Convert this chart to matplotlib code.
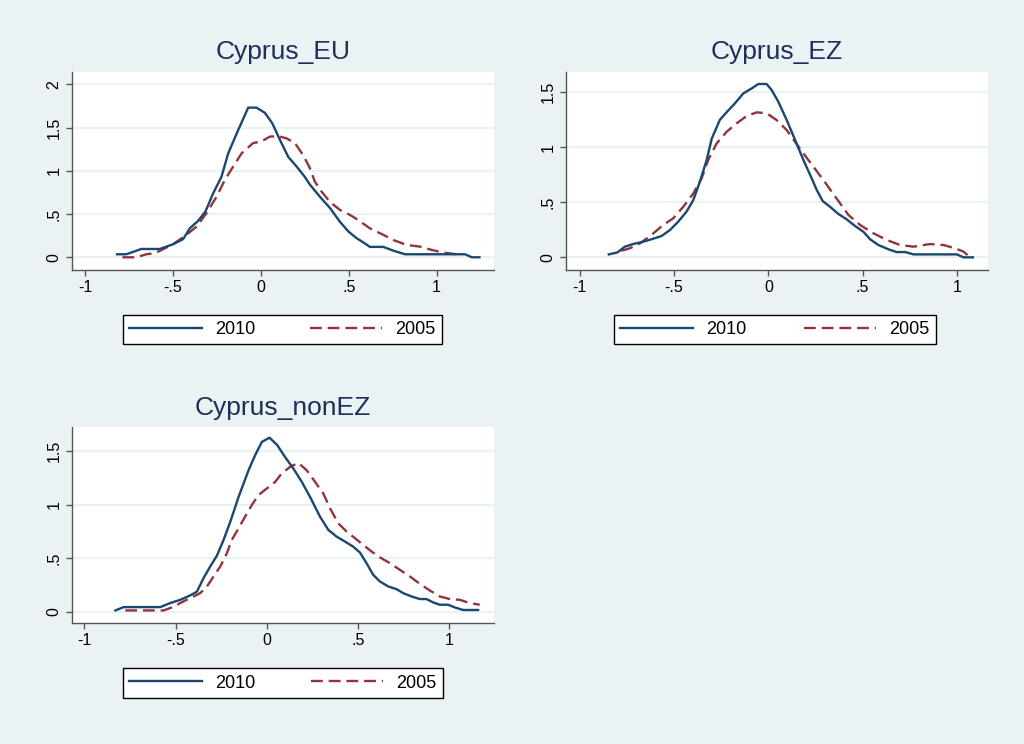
import numpy as np
import matplotlib.pyplot as plt

plt.rcParams['font.family'] = ['Liberation Sans', 'DejaVu Sans']

# couleurs façon Stata s2color
bleu = '#1A476F'
rouge = '#90353B'
fond = '#EAF2F3'

# Cyprus_EU
eu_x_2010 = [-0.818, -0.765, -0.68, -0.575, -0.50, -0.442, -0.404, -0.357, -0.315, -0.271, -0.224,
             -0.186, -0.129, -0.072, -0.025, 0.023, 0.065, 0.108, 0.156, 0.203, 0.25, 0.279, 0.336,
             0.393, 0.45, 0.497, 0.545, 0.592, 0.62, 0.696, 0.753, 0.82, 0.924, 1.038, 1.161, 1.2, 1.243]
eu_y_2010 = [0.035, 0.035, 0.096, 0.096, 0.15, 0.21, 0.335, 0.42, 0.53, 0.74, 0.93,
             1.20, 1.47, 1.73, 1.73, 1.67, 1.55, 1.36, 1.16, 1.05, 0.93, 0.84, 0.70,
             0.57, 0.41, 0.30, 0.22, 0.16, 0.12, 0.12, 0.077, 0.035, 0.035, 0.035, 0.035, 0.0, 0.0]
eu_x_2005 = [-0.787, -0.708, -0.651, -0.603, -0.565, -0.50, -0.423, -0.366, -0.309, -0.252, -0.205,
             -0.157, -0.11, -0.072, -0.044, 0.004, 0.051, 0.099, 0.146, 0.194, 0.241, 0.279, 0.307,
             0.345, 0.393, 0.45, 0.507, 0.554, 0.62, 0.696, 0.753, 0.829, 0.905, 0.972, 1.038, 1.114]
eu_y_2005 = [0.0, 0.0, 0.035, 0.046, 0.085, 0.15, 0.26, 0.355, 0.51, 0.70, 0.894,
             1.05, 1.20, 1.27, 1.32, 1.34, 1.395, 1.40, 1.375, 1.32, 1.18, 1.03, 0.875,
             0.76, 0.64, 0.547, 0.49, 0.43, 0.335, 0.26, 0.20, 0.143, 0.123, 0.085, 0.054, 0.035]

# Cyprus_EZ
ez_x_2010 = [-0.846, -0.80, -0.761, -0.717, -0.664, -0.62, -0.566, -0.522, -0.478, -0.434, -0.398,
             -0.363, -0.327, -0.30, -0.257, -0.221, -0.177, -0.133, -0.088, -0.053, -0.009, 0.018,
             0.053, 0.097, 0.142, 0.186, 0.23, 0.257, 0.288, 0.327, 0.372, 0.416, 0.46, 0.504, 0.54,
             0.584, 0.637, 0.681, 0.726, 0.77, 0.858, 1.0, 1.035, 1.085]
ez_y_2010 = [0.027, 0.045, 0.097, 0.121, 0.142, 0.164, 0.194, 0.248, 0.324, 0.415, 0.52,
             0.688, 0.885, 1.08, 1.25, 1.32, 1.40, 1.49, 1.536, 1.576, 1.576, 1.52,
             1.415, 1.25, 1.067, 0.885, 0.718, 0.612, 0.512, 0.46, 0.394, 0.345, 0.285, 0.233, 0.164,
             0.112, 0.073, 0.048, 0.048, 0.027, 0.027, 0.027, 0.0, 0.0]
ez_x_2005 = [-0.779, -0.735, -0.681, -0.62, -0.558, -0.504, -0.451, -0.398, -0.354, -0.319, -0.274,
             -0.221, -0.168, -0.115, -0.062, -0.009, 0.044, 0.097, 0.142, 0.186, 0.239, 0.292, 0.336,
             0.381, 0.425, 0.487, 0.558, 0.628, 0.699, 0.77, 0.858, 0.929, 0.991, 1.035, 1.071]
ez_y_2005 = [0.06, 0.082, 0.127, 0.203, 0.294, 0.355, 0.46, 0.58, 0.718, 0.885, 1.036,
             1.142, 1.218, 1.285, 1.318, 1.31, 1.248, 1.158, 1.05, 0.945, 0.824, 0.703, 0.597,
             0.49, 0.385, 0.294, 0.218, 0.158, 0.112, 0.097, 0.121, 0.112, 0.082, 0.052, 0.0]

# Cyprus_nonEZ
nez_x_2010 = [-0.83, -0.785, -0.693, -0.584, -0.529, -0.474, -0.42, -0.383, -0.347, -0.31, -0.274,
              -0.237, -0.20, -0.155, -0.10, -0.064, -0.027, 0.015, 0.058, 0.10, 0.146, 0.192, 0.237,
              0.292, 0.338, 0.383, 0.429, 0.474, 0.511, 0.547, 0.584, 0.62, 0.666, 0.712, 0.748,
              0.794, 0.839, 0.876, 0.912, 0.949, 0.995, 1.031, 1.077, 1.159]
nez_y_2010 = [0.015, 0.046, 0.046, 0.046, 0.084, 0.114, 0.155, 0.19, 0.315, 0.424, 0.523,
              0.671, 0.841, 1.07, 1.32, 1.46, 1.584, 1.624, 1.553, 1.444, 1.336, 1.212, 1.073,
              0.888, 0.764, 0.702, 0.656, 0.609, 0.554, 0.455, 0.346, 0.285, 0.238, 0.213, 0.176,
              0.145, 0.121, 0.121, 0.09, 0.068, 0.068, 0.043, 0.019, 0.019]
nez_x_2005 = [-0.776, -0.693, -0.566, -0.52, -0.474, -0.42, -0.365, -0.328, -0.292, -0.255, -0.219,
              -0.192, -0.155, -0.119, -0.082, -0.046, 0.0, 0.046, 0.082, 0.128, 0.173, 0.219, 0.265,
              0.31, 0.347, 0.392, 0.438, 0.484, 0.529, 0.575, 0.62, 0.675, 0.73, 0.785, 0.839,
              0.894, 0.949, 1.004, 1.058, 1.113, 1.168]
nez_y_2005 = [0.015, 0.015, 0.015, 0.043, 0.084, 0.13, 0.176, 0.238, 0.331, 0.424, 0.547,
              0.671, 0.779, 0.888, 0.996, 1.089, 1.15, 1.212, 1.29, 1.352, 1.389, 1.32, 1.212,
              1.104, 0.965, 0.826, 0.749, 0.687, 0.625, 0.563, 0.51, 0.455, 0.393, 0.331, 0.263,
              0.201, 0.145, 0.121, 0.114, 0.084, 0.068]

x_ticks = [-1, -0.5, 0, 0.5, 1]
x_labels = ['-1', '-.5', '0', '.5', '1']
y_labels_all = {0: '0', 0.5: '.5', 1: '1', 1.5: '1.5', 2: '2'}

# (titre, données, position axes, xlim, ylim, yticks, position légende en pixels)
panneaux = [
    ('Cyprus_EU', eu_x_2010, eu_y_2010, eu_x_2005, eu_y_2005,
     (72, 72, 494, 270), (-1.074, 1.326), (-0.147, 2.142), [0, 0.5, 1, 1.5, 2], (123, 312, 442, 347)),
    ('Cyprus_EZ', ez_x_2010, ez_y_2010, ez_x_2005, ez_y_2005,
     (566, 72, 988, 270), (-1.073, 1.165), (-0.115, 1.685), [0, 0.5, 1, 1.5], (614, 312, 936, 347)),
    ('Cyprus_nonEZ', nez_x_2010, nez_y_2010, nez_x_2005, nez_y_2005,
     (72, 427, 494, 623), (-1.068, 1.246), (-0.102, 1.723), [0, 0.5, 1, 1.5], (123, 665, 443, 701)),
]

W, H = 1024, 744
fig = plt.figure(figsize=(W / 100, H / 100), dpi=100, facecolor=fond)

for titre, x1, y1, x2, y2, pos, xl, yl, yt, lg in panneaux:
    l, t, r, b = pos
    ax = fig.add_axes([l / W, 1 - b / H, (r - l) / W, (b - t) / H])
    ax.set_facecolor('white')
    for yy in yt:
        ax.axhline(yy, color=fond, lw=1.6, zorder=0.5)
    ax.plot(x1, y1, color=bleu, lw=1.7, label='2010', zorder=3)
    ax.plot(x2, y2, color=rouge, lw=1.7, ls=(0, (5, 2.5)), label='2005', zorder=2)
    ax.set_xlim(xl)
    ax.set_ylim(yl)
    ax.set_xticks(x_ticks)
    ax.set_xticklabels(x_labels)
    ax.set_yticks(yt)
    ax.set_yticklabels([y_labels_all[v] for v in yt], rotation=90, va='center')
    for s in ['top', 'right']:
        ax.spines[s].set_visible(False)
    for s in ['left', 'bottom']:
        ax.spines[s].set_color('#555555')
        ax.spines[s].set_linewidth(1.0)
    ax.tick_params(length=4.5, width=1.0, color='#555555', labelsize=11.5, labelcolor='black', pad=3)
    ax.set_title(titre, fontsize=19, color='#1E2F5A', pad=9)

    lx0, ly0, lx1, ly1 = lg
    leg = ax.legend(loc='center', bbox_to_anchor=(lx0 / W, 1 - ly1 / H, (lx1 - lx0) / W, (ly1 - ly0) / H),
                    bbox_transform=fig.transFigure, mode='expand', ncol=2, fontsize=13,
                    handlelength=4.0, handletextpad=0.75, borderpad=0.35, borderaxespad=0,
                    fancybox=False, frameon=True)
    leg.get_frame().set_edgecolor('black')
    leg.get_frame().set_linewidth(1.0)
    leg.get_frame().set_facecolor('white')
    leg.get_frame().set_alpha(1)

fig.savefig('out.png', dpi=100, facecolor=fond)
